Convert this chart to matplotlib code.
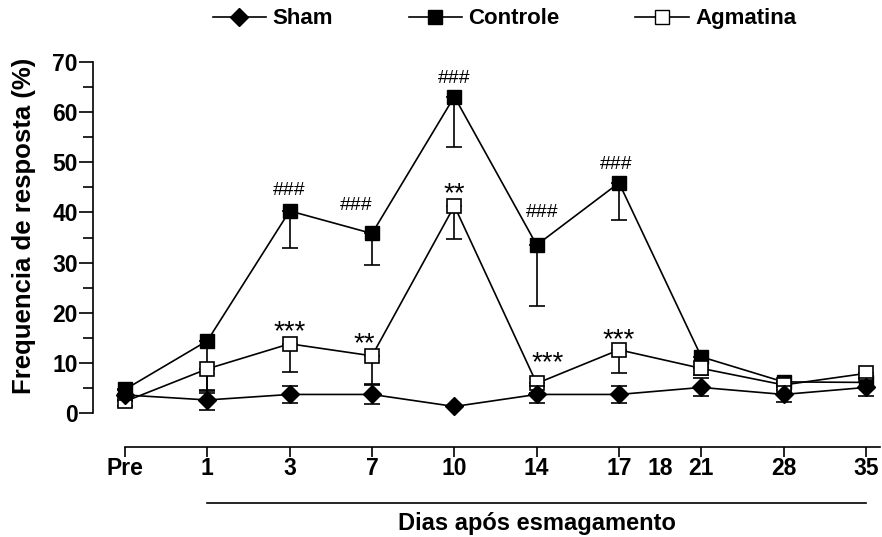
import numpy as np
import matplotlib
matplotlib.use("Agg")
import matplotlib.pyplot as plt
import matplotlib.transforms as mtransforms
from matplotlib.lines import Line2D

plt.rcParams['font.family'] = ['Liberation Sans', 'DejaVu Sans']
plt.rcParams['font.weight'] = 'bold'
plt.rcParams['axes.labelweight'] = 'bold'

# dias (posicoes categoricas igualmente espacadas)
dias = ['Pre', '1', '3', '7', '10', '14', '17', '21', '28', '35']
pos = np.arange(len(dias))

controle = [4.7, 14.4, 40.3, 35.8, 63.1, 33.5, 45.9, 11.2, 6.2, 6.1]
controle_err = [1.0, 10.0, 7.3, 6.3, 10.1, 12.2, 7.5, 2.0, 1.0, 1.0]

agmatina = [2.3, 8.8, 13.8, 11.4, 41.3, 5.9, 12.6, 8.9, 5.6, 7.9]
agmatina_err = [1.0, 4.8, 5.6, 5.7, 6.5, 2.0, 4.7, 1.3, 1.0, 1.0]

sham = [3.6, 2.6, 3.7, 3.7, 1.3, 3.7, 3.7, 5.1, 3.7, 5.1]
sham_err = [1.0, 2.0, 1.7, 1.9, 0.0, 1.7, 1.7, 1.8, 1.6, 1.8]

# marcas de significancia: (indice do dia, texto, deslocamento x/y em px)
sig_controle = [(2, '###', 0, 12), (3, '###', -16, 19), (4, '###', 0, 10), (5, '###', 6, 24), (6, '###', -3, 10)]
sig_agmatina = [(2, '***', 0, -1), (3, '**', -8, -1), (4, '**', 0, -1), (5, '***', 11, 7), (6, '***', 0, -3)]

fig = plt.figure(figsize=(8.82, 5.37), dpi=100)
ax = fig.add_axes([93/882, 1-413/537, (880-93)/882, (413-62)/537])

lw = 1.2
ax.errorbar(pos, controle, yerr=[controle_err, np.zeros(10)], color='black', lw=lw,
            marker='s', ms=10, mfc='black', mec='black', capsize=6, capthick=lw,
            elinewidth=lw, clip_on=False, zorder=3)
ax.errorbar(pos, agmatina, yerr=[agmatina_err, np.zeros(10)], color='black', lw=lw,
            marker='s', ms=10, mfc='white', mec='black', mew=1.2, capsize=6, capthick=lw,
            elinewidth=lw, clip_on=False, zorder=4)
ax.errorbar(pos, sham, yerr=sham_err, color='black', lw=lw,
            marker='D', ms=9, mfc='black', mec='black', capsize=6, capthick=lw,
            elinewidth=lw, clip_on=False, zorder=5)

for i, t, dx, dy in sig_controle:
    ax.annotate(t, (pos[i], controle[i]), xytext=(dx, dy), textcoords='offset pixels',
                ha='center', va='bottom', fontsize=14, fontweight='normal')
for i, t, dx, dy in sig_agmatina:
    ax.annotate(t, (pos[i], agmatina[i]), xytext=(dx, dy), textcoords='offset pixels',
                ha='center', va='bottom', fontsize=20, fontweight='normal')

ax.set_xlim(-0.389, 9.17)
ax.set_ylim(0, 70)
ax.spines['top'].set_visible(False)
ax.spines['right'].set_visible(False)
for s in ['left', 'bottom']:
    ax.spines[s].set_linewidth(1.2)
ax.spines['bottom'].set_position(('outward', 24.5))
ax.spines['bottom'].set_bounds(0, 9.17)

ax.set_yticks(np.arange(0, 71, 10))
ax.set_yticks(np.arange(5, 70, 10), minor=True)
ax.tick_params(axis='y', which='major', length=10, width=1.2, labelsize=16.5, pad=1)
ax.tick_params(axis='y', which='minor', length=7, width=1.2)

ax.set_xticks(pos)
ax.set_xticklabels(dias)
ax.set_xticks([6.5], minor=True)
ax.set_xticklabels(['18'], minor=True)
ax.tick_params(axis='x', which='major', length=7, width=1.2, labelsize=16.5, pad=0)
ax.tick_params(axis='x', which='minor', length=0, labelsize=16.5, pad=7)

ax.set_ylabel('Frequencia de resposta (%)', fontsize=18.5)
ax.yaxis.set_label_coords(-0.072, 0.533)

trans = mtransforms.blended_transform_factory(ax.transData, ax.transAxes)
ax.plot([1, 9], [-0.256, -0.256], color='black', lw=1.2, transform=trans, clip_on=False)
ax.text(5, -0.315, 'Dias após esmagamento', transform=trans, ha='center', va='center',
        fontsize=17)

handles = [
    Line2D([], [], color='black', lw=lw, marker='D', ms=9, mfc='black'),
    Line2D([], [], color='black', lw=lw, marker='s', ms=10, mfc='black'),
    Line2D([], [], color='black', lw=lw, marker='s', ms=10, mfc='white'),
]
fig.legend(handles, ['Sham', 'Controle', 'Agmatina'], loc='center',
           bbox_to_anchor=(0.572, 0.965), ncol=3, frameon=False, fontsize=16,
           handlelength=2.4, columnspacing=3.4, handletextpad=0.3)

fig.savefig('out.png', dpi=100)
